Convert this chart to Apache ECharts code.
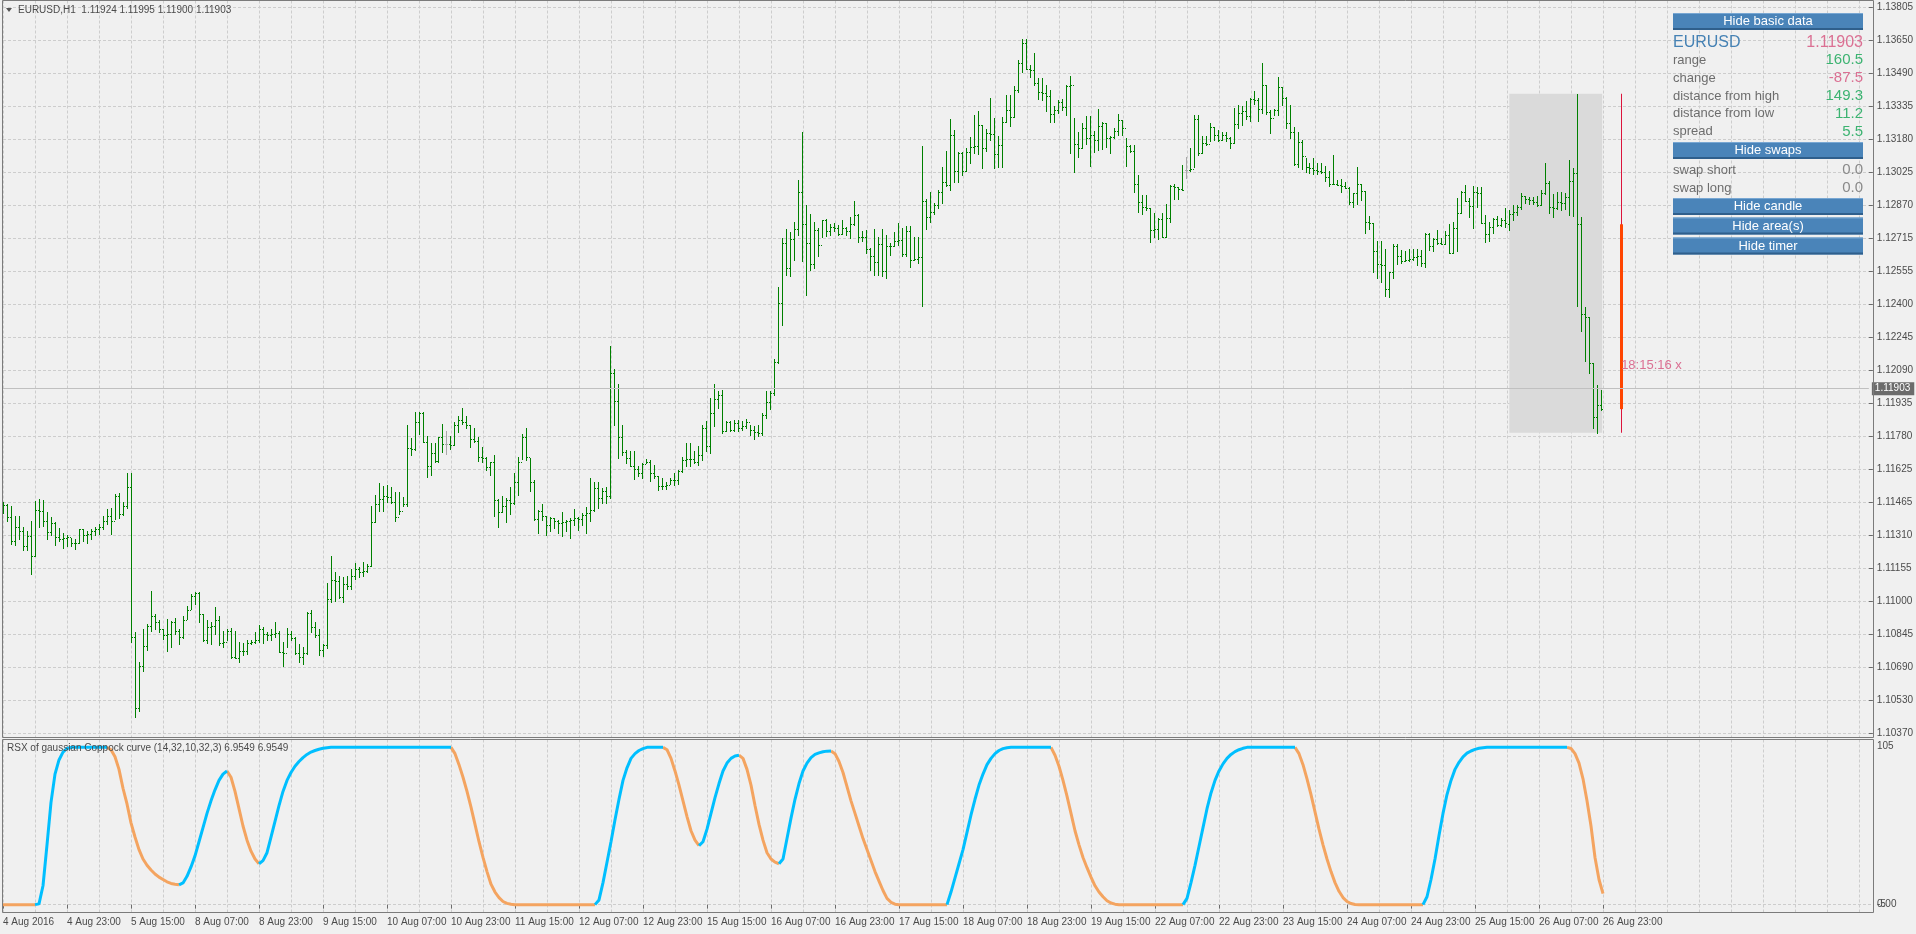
<!DOCTYPE html>
<html>
<head>
<meta charset="utf-8">
<title>EURUSD,H1</title>
<script src="https://cdn.jsdelivr.net/npm/echarts@6/dist/echarts.min.js"></script>
<style>
html,body{margin:0;padding:0;background:#f0f0f0;}
#chart{width:1916px;height:934px;}
</style>
</head>
<body>
<div id="chart"></div>
<script>
// ---------------- data ----------------
const symbolName = 'EURUSD';
const timeframe = 'H1';
const tradingDays = ['4 Aug','5 Aug','8 Aug','9 Aug','10 Aug','11 Aug','12 Aug','15 Aug','16 Aug','17 Aug','18 Aug','19 Aug','22 Aug','23 Aug','24 Aug','25 Aug','26 Aug'];
const firstHour = 7;
const firstTickLabel = '4 Aug 2016';
const futureSlots = 67;

const opens = [
1.11455,1.11451,1.11391,1.11278,1.11344,1.11328,1.11257,1.11304,1.11207,1.11427,
1.11423,1.11375,1.11320,1.11364,1.11297,1.11289,1.11293,1.11297,1.11270,1.11271,
1.11336,1.11309,1.11314,1.11328,1.11336,1.11344,1.11372,1.11396,1.11375,1.11491,
1.11407,1.11443,1.11533,1.10823,1.10487,1.10689,1.10781,1.10875,1.10926,1.10894,
1.10860,1.10836,1.10839,1.10894,1.10855,1.10823,1.10907,1.10954,1.11017,1.11033,
1.10932,1.10808,1.10871,1.10875,1.10905,1.10797,1.10800,1.10855,1.10729,1.10726,
1.10756,1.10760,1.10797,1.10800,1.10812,1.10863,1.10839,1.10834,1.10838,1.10844,
1.10752,1.10749,1.10839,1.10819,1.10749,1.10729,1.10749,1.10939,1.10871,1.10834,
1.10764,1.10787,1.11005,1.11092,1.11088,1.11013,1.11076,1.11068,1.11112,1.11147,
1.11131,1.11136,1.11159,1.11368,1.11453,1.11478,1.11494,1.11486,1.11462,1.11391,
1.11423,1.11454,1.11718,1.11715,1.11841,1.11885,1.11746,1.11636,1.11694,1.11656,
1.11770,1.11738,1.11738,1.11735,1.11828,1.11852,1.11841,1.11828,1.11762,1.11754,
1.11675,1.11670,1.11631,1.11651,1.11473,1.11418,1.11446,1.11475,1.11457,1.11557,
1.11655,1.11773,1.11675,1.11558,1.11383,1.11419,1.11398,1.11356,1.11387,1.11372,
1.11364,1.11368,1.11372,1.11380,1.11387,1.11384,1.11403,1.11410,1.11427,1.11529,
1.11482,1.11517,1.11490,1.12074,1.11943,1.11771,1.11698,1.11671,1.11635,1.11619,
1.11600,1.11645,1.11655,1.11600,1.11585,1.11537,1.11541,1.11545,1.11569,1.11566,
1.11608,1.11663,1.11667,1.11668,1.11652,1.11687,1.11813,1.11727,1.11887,1.11950,
1.11971,1.11798,1.11842,1.11805,1.11837,1.11813,1.11821,1.11840,1.11805,1.11793,
1.11790,1.11876,1.11939,1.11979,1.12124,1.12405,1.12689,1.12570,1.12708,1.12755,
1.12930,1.12780,1.12689,1.12589,1.12749,1.12678,1.12796,1.12747,1.12767,1.12760,
1.12733,1.12760,1.12744,1.12778,1.12823,1.12717,1.12720,1.12660,1.12626,1.12599,
1.12684,1.12558,1.12673,1.12676,1.12701,1.12705,1.12638,1.12744,1.12610,1.12613,
1.12622,1.12886,1.12812,1.12834,1.12870,1.12933,1.12976,1.12965,1.13201,1.13028,
1.13114,1.13032,1.13122,1.13146,1.13150,1.13249,1.13138,1.13209,1.13206,1.13111,
1.13154,1.13260,1.13320,1.13285,1.13414,1.13540,1.13635,1.13512,1.13509,1.13449,
1.13405,1.13401,1.13387,1.13300,1.13320,1.13359,1.13332,1.13433,1.13437,1.13157,
1.13141,1.13232,1.13185,1.13201,1.13177,1.13243,1.13256,1.13185,1.13190,1.13220,
1.13272,1.13232,1.13150,1.13125,1.12967,1.12882,1.12859,1.12854,1.12751,1.12755,
1.12803,1.12720,1.12810,1.12961,1.12956,1.12944,1.13035,1.13035,1.13040,1.13275,
1.13114,1.13165,1.13160,1.13237,1.13201,1.13177,1.13201,1.13188,1.13165,1.13253,
1.13307,1.13314,1.13291,1.13370,1.13365,1.13322,1.13437,1.13311,1.13280,1.13319,
1.13430,1.13374,1.13256,1.13217,1.13062,1.13169,1.13101,1.13048,1.13043,1.13035,
1.13030,1.13024,1.13004,1.12969,1.12967,1.12964,1.12960,1.12952,1.12882,1.12925,
1.12967,1.12936,1.12791,1.12783,1.12652,1.12589,1.12585,1.12471,1.12551,1.12677,
1.12630,1.12606,1.12610,1.12615,1.12622,1.12628,1.12594,1.12731,1.12677,1.12707,
1.12691,1.12685,1.12728,1.12641,1.12759,1.12830,1.12933,1.12889,1.12865,1.12930,
1.12925,1.12783,1.12731,1.12764,1.12802,1.12775,1.12796,1.12778,1.12827,1.12838,
1.12862,1.12912,1.12896,1.12893,1.12885,1.12870,1.12925,1.12972,1.12859,1.12855,
1.12885,1.12881,1.12909,1.12985,1.13023,1.12778,1.12354,1.12337,1.12120,1.11868,
1.11924];

const highs = [
1.11462,1.11454,1.11446,1.11399,1.11399,1.11344,1.11328,1.11375,1.11467,1.11478,
1.11473,1.11418,1.11391,1.11368,1.11339,1.11317,1.11305,1.11292,1.11286,1.11336,
1.11336,1.11328,1.11336,1.11344,1.11360,1.11399,1.11431,1.11434,1.11502,1.11506,
1.11462,1.11599,1.11599,1.10847,1.10705,1.10863,1.10886,1.11041,1.10934,1.10907,
1.10863,1.10910,1.10902,1.10913,1.10863,1.10926,1.10973,1.11028,1.11036,1.11036,
1.10934,1.10905,1.10894,1.10965,1.10926,1.10855,1.10863,1.10866,1.10855,1.10800,
1.10797,1.10808,1.10808,1.10847,1.10879,1.10871,1.10850,1.10863,1.10894,1.10855,
1.10800,1.10866,1.10855,1.10823,1.10792,1.10776,1.10942,1.10954,1.10894,1.10863,
1.10792,1.11081,1.11210,1.11131,1.11115,1.11107,1.11112,1.11147,1.11175,1.11158,
1.11181,1.11169,1.11446,1.11497,1.11554,1.11541,1.11544,1.11533,1.11510,1.11513,
1.11486,1.11828,1.11767,1.11891,1.11891,1.11891,1.11778,1.11743,1.11741,1.11773,
1.11833,1.11800,1.11778,1.11841,1.11872,1.11909,1.11872,1.11828,1.11812,1.11770,
1.11722,1.11675,1.11655,1.11686,1.11478,1.11494,1.11481,1.11533,1.11599,1.11675,
1.11786,1.11812,1.11671,1.11566,1.11427,1.11455,1.11398,1.11392,1.11387,1.11380,
1.11416,1.11380,1.11387,1.11430,1.11392,1.11411,1.11440,1.11577,1.11556,1.11556,
1.11529,1.11534,1.12203,1.12092,1.12021,1.11829,1.11708,1.11703,1.11703,1.11632,
1.11648,1.11667,1.11663,1.11640,1.11585,1.11577,1.11556,1.11577,1.11600,1.11613,
1.11676,1.11745,1.11742,1.11703,1.11727,1.11829,1.11848,1.11955,1.12023,1.11987,
1.11992,1.11845,1.11845,1.11850,1.11853,1.11845,1.11857,1.11829,1.11821,1.11829,
1.11884,1.11987,1.11987,1.12140,1.12479,1.12712,1.12755,1.12741,1.12788,1.12988,
1.13214,1.12870,1.12827,1.12791,1.12760,1.12799,1.12802,1.12778,1.12783,1.12775,
1.12799,1.12764,1.12812,1.12887,1.12826,1.12744,1.12752,1.12665,1.12755,1.12720,
1.12756,1.12728,1.12689,1.12741,1.12783,1.12760,1.12771,1.12771,1.12717,1.12720,
1.13149,1.12898,1.12930,1.12878,1.12941,1.13051,1.13127,1.13275,1.13225,1.13122,
1.13118,1.13138,1.13190,1.13296,1.13312,1.13249,1.13228,1.13375,1.13283,1.13197,
1.13285,1.13390,1.13390,1.13433,1.13556,1.13654,1.13654,1.13532,1.13588,1.13472,
1.13469,1.13438,1.13414,1.13338,1.13364,1.13370,1.13438,1.13480,1.13280,1.13217,
1.13256,1.13291,1.13291,1.13220,1.13322,1.13264,1.13256,1.13196,1.13232,1.13299,
1.13272,1.13185,1.13154,1.13154,1.13012,1.12917,1.12917,1.12854,1.12830,1.12807,
1.12830,1.12873,1.12964,1.12967,1.12956,1.13059,1.13098,1.13138,1.13295,1.13294,
1.13196,1.13196,1.13259,1.13237,1.13225,1.13217,1.13217,1.13190,1.13330,1.13343,
1.13338,1.13362,1.13374,1.13409,1.13374,1.13540,1.13437,1.13319,1.13322,1.13474,
1.13430,1.13382,1.13343,1.13240,1.13217,1.13177,1.13094,1.13067,1.13090,1.13070,
1.13067,1.13054,1.13032,1.13106,1.12988,1.12993,1.12980,1.12956,1.12928,1.13051,
1.12967,1.12936,1.12818,1.12783,1.12699,1.12699,1.12660,1.12554,1.12684,1.12684,
1.12657,1.12652,1.12661,1.12661,1.12660,1.12657,1.12739,1.12739,1.12715,1.12751,
1.12715,1.12747,1.12778,1.12791,1.12901,1.12936,1.12964,1.12901,1.12960,1.12956,
1.12956,1.12822,1.12791,1.12807,1.12818,1.12807,1.12854,1.12846,1.12870,1.12870,
1.12925,1.12912,1.12909,1.12909,1.12912,1.12941,1.13067,1.12983,1.12922,1.12933,
1.12933,1.12928,1.13083,1.13043,1.13396,1.12814,1.12385,1.12337,1.12120,1.12018,
1.11995];

const lows = [
1.11412,1.11375,1.11265,1.11262,1.11289,1.11234,1.11238,1.11123,1.11210,1.11344,
1.11349,1.11289,1.11305,1.11260,1.11281,1.11246,1.11257,1.11257,1.11241,1.11270,
1.11281,1.11270,1.11289,1.11305,1.11312,1.11336,1.11360,1.11312,1.11383,1.11387,
1.11402,1.11435,1.10800,1.10445,1.10472,1.10662,1.10765,1.10855,1.10863,1.10847,
1.10815,1.10760,1.10776,1.10839,1.10792,1.10819,1.10910,1.10957,1.10981,1.10894,
1.10804,1.10797,1.10792,1.10839,1.10787,1.10776,1.10808,1.10724,1.10724,1.10705,
1.10737,1.10745,1.10792,1.10797,1.10800,1.10797,1.10808,1.10808,1.10823,1.10752,
1.10689,1.10776,1.10808,1.10745,1.10708,1.10697,1.10745,1.10847,1.10823,1.10737,
1.10734,1.10771,1.10989,1.10997,1.11008,1.10992,1.11052,1.11052,1.11099,1.11107,
1.11115,1.11131,1.11159,1.11371,1.11423,1.11423,1.11462,1.11459,1.11375,1.11407,
1.11446,1.11446,1.11686,1.11711,1.11786,1.11746,1.11581,1.11593,1.11655,1.11655,
1.11699,1.11691,1.11715,1.11733,1.11797,1.11833,1.11812,1.11722,1.11749,1.11659,
1.11655,1.11615,1.11593,1.11399,1.11347,1.11415,1.11368,1.11407,1.11454,1.11498,
1.11667,1.11664,1.11514,1.11380,1.11316,1.11380,1.11308,1.11324,1.11340,1.11316,
1.11301,1.11324,1.11293,1.11356,1.11332,1.11356,1.11316,1.11375,1.11419,1.11435,
1.11458,1.11458,1.11482,1.11829,1.11671,1.11687,1.11648,1.11632,1.11572,1.11585,
1.11577,1.11648,1.11561,1.11577,1.11518,1.11525,1.11525,1.11550,1.11545,1.11550,
1.11604,1.11632,1.11632,1.11648,1.11640,1.11663,1.11703,1.11695,1.11821,1.11908,
1.11790,1.11798,1.11798,1.11798,1.11798,1.11805,1.11813,1.11782,1.11761,1.11774,
1.11782,1.11861,1.11903,1.11971,1.12121,1.12302,1.12539,1.12534,1.12610,1.12728,
1.12602,1.12444,1.12562,1.12570,1.12629,1.12717,1.12723,1.12728,1.12748,1.12728,
1.12731,1.12728,1.12712,1.12775,1.12696,1.12701,1.12641,1.12562,1.12539,1.12539,
1.12534,1.12523,1.12633,1.12673,1.12681,1.12626,1.12626,1.12578,1.12607,1.12594,
1.12389,1.12756,1.12791,1.12827,1.12857,1.12881,1.12960,1.12938,1.12980,1.12976,
1.13012,1.13028,1.13067,1.13114,1.13111,1.13042,1.13126,1.13178,1.13044,1.13048,
1.13051,1.13260,1.13241,1.13285,1.13406,1.13501,1.13512,1.13474,1.13438,1.13370,
1.13367,1.13312,1.13264,1.13264,1.13304,1.13320,1.13296,1.13114,1.13027,1.13098,
1.13138,1.13157,1.13054,1.13122,1.13130,1.13133,1.13146,1.13114,1.13185,1.13201,
1.13201,1.13056,1.13122,1.12933,1.12838,1.12825,1.12846,1.12696,1.12720,1.12707,
1.12717,1.12720,1.12791,1.12898,1.12898,1.12941,1.12996,1.13032,1.13048,1.13106,
1.13114,1.13154,1.13174,1.13177,1.13174,1.13177,1.13174,1.13138,1.13161,1.13232,
1.13248,1.13275,1.13269,1.13348,1.13269,1.13307,1.13299,1.13209,1.13295,1.13295,
1.13343,1.13232,1.13185,1.13059,1.13051,1.13040,1.13027,1.13023,1.13016,1.13016,
1.13019,1.12985,1.12960,1.12967,1.12964,1.12933,1.12952,1.12873,1.12859,1.12874,
1.12893,1.12736,1.12755,1.12551,1.12526,1.12507,1.12439,1.12436,1.12523,1.12590,
1.12594,1.12606,1.12602,1.12609,1.12586,1.12581,1.12578,1.12657,1.12652,1.12684,
1.12684,1.12685,1.12641,1.12641,1.12652,1.12833,1.12889,1.12811,1.12762,1.12862,
1.12783,1.12696,1.12699,1.12739,1.12770,1.12770,1.12767,1.12751,1.12799,1.12822,
1.12849,1.12878,1.12874,1.12874,1.12866,1.12870,1.12922,1.12833,1.12814,1.12849,
1.12846,1.12849,1.12822,1.12818,1.12393,1.12275,1.12132,1.12076,1.11816,1.11791,
1.11900];

const closes = [
1.11451,1.11391,1.11278,1.11344,1.11328,1.11257,1.11304,1.11207,1.11427,1.11423,
1.11375,1.11320,1.11364,1.11297,1.11289,1.11293,1.11297,1.11270,1.11271,1.11336,
1.11309,1.11314,1.11328,1.11336,1.11344,1.11372,1.11396,1.11375,1.11491,1.11407,
1.11443,1.11533,1.10823,1.10487,1.10689,1.10781,1.10875,1.10926,1.10894,1.10860,
1.10836,1.10839,1.10894,1.10855,1.10823,1.10907,1.10954,1.11017,1.11033,1.10932,
1.10808,1.10871,1.10875,1.10905,1.10797,1.10800,1.10855,1.10729,1.10726,1.10756,
1.10760,1.10797,1.10800,1.10812,1.10863,1.10839,1.10834,1.10838,1.10844,1.10752,
1.10749,1.10839,1.10819,1.10749,1.10729,1.10749,1.10939,1.10871,1.10834,1.10764,
1.10787,1.11005,1.11092,1.11088,1.11013,1.11076,1.11068,1.11112,1.11147,1.11131,
1.11136,1.11159,1.11368,1.11453,1.11478,1.11494,1.11486,1.11462,1.11391,1.11423,
1.11454,1.11718,1.11715,1.11841,1.11885,1.11746,1.11636,1.11694,1.11656,1.11770,
1.11738,1.11738,1.11735,1.11828,1.11852,1.11841,1.11828,1.11762,1.11754,1.11675,
1.11670,1.11631,1.11651,1.11473,1.11418,1.11446,1.11475,1.11457,1.11557,1.11655,
1.11773,1.11675,1.11558,1.11383,1.11419,1.11398,1.11356,1.11387,1.11372,1.11364,
1.11368,1.11372,1.11380,1.11387,1.11384,1.11403,1.11410,1.11427,1.11529,1.11482,
1.11517,1.11490,1.12074,1.11943,1.11771,1.11698,1.11671,1.11635,1.11619,1.11600,
1.11645,1.11655,1.11600,1.11585,1.11537,1.11541,1.11545,1.11569,1.11566,1.11608,
1.11663,1.11667,1.11668,1.11652,1.11687,1.11813,1.11727,1.11887,1.11950,1.11971,
1.11798,1.11842,1.11805,1.11837,1.11813,1.11821,1.11840,1.11805,1.11793,1.11790,
1.11876,1.11939,1.11979,1.12124,1.12405,1.12689,1.12570,1.12708,1.12755,1.12930,
1.12780,1.12689,1.12589,1.12749,1.12678,1.12796,1.12747,1.12767,1.12760,1.12733,
1.12760,1.12744,1.12778,1.12823,1.12717,1.12720,1.12660,1.12626,1.12599,1.12684,
1.12558,1.12673,1.12676,1.12701,1.12705,1.12638,1.12744,1.12610,1.12613,1.12622,
1.12886,1.12812,1.12834,1.12870,1.12933,1.12976,1.12965,1.13201,1.13028,1.13114,
1.13032,1.13122,1.13146,1.13150,1.13249,1.13138,1.13209,1.13206,1.13111,1.13154,
1.13260,1.13320,1.13285,1.13414,1.13540,1.13635,1.13512,1.13509,1.13449,1.13405,
1.13401,1.13387,1.13300,1.13320,1.13359,1.13332,1.13433,1.13437,1.13157,1.13141,
1.13232,1.13185,1.13201,1.13177,1.13243,1.13256,1.13185,1.13190,1.13220,1.13272,
1.13232,1.13150,1.13125,1.12967,1.12882,1.12859,1.12854,1.12751,1.12755,1.12803,
1.12720,1.12810,1.12961,1.12956,1.12944,1.12941,1.13035,1.13040,1.13275,1.13114,
1.13165,1.13160,1.13237,1.13201,1.13177,1.13201,1.13188,1.13165,1.13253,1.13307,
1.13314,1.13291,1.13370,1.13365,1.13322,1.13437,1.13311,1.13280,1.13319,1.13430,
1.13374,1.13256,1.13217,1.13062,1.13169,1.13101,1.13048,1.13043,1.13035,1.13030,
1.13024,1.13004,1.12969,1.12967,1.12964,1.12960,1.12952,1.12882,1.12925,1.12967,
1.12936,1.12791,1.12783,1.12652,1.12589,1.12585,1.12471,1.12551,1.12677,1.12630,
1.12606,1.12610,1.12615,1.12622,1.12628,1.12594,1.12731,1.12677,1.12707,1.12691,
1.12685,1.12728,1.12641,1.12759,1.12830,1.12933,1.12889,1.12865,1.12930,1.12925,
1.12783,1.12731,1.12764,1.12802,1.12775,1.12796,1.12783,1.12827,1.12838,1.12862,
1.12912,1.12896,1.12893,1.12885,1.12870,1.12925,1.12972,1.12859,1.12855,1.12885,
1.12881,1.12909,1.12985,1.13023,1.12778,1.12354,1.12337,1.12120,1.11868,1.11923,
1.11903];

// RSX of gaussian Coppock curve, one value per bar
const rsxValues = [
0,0,0,0,0,0,0,0,0,0.5,
12,38,65,83,92,97,99.3,100,100,100,
100,100,100,100,100,100,100,98.5,94,86,
74,64,52,43,35,29,25,22,19.5,17.5,
16,14.5,13.5,13,12.6,13.8,18,24,31,40,
49,58,66,73,79,83,85,81,72,61,
50,41,34,29,26,28,33,43,53,63,
72,79,84,88,91,93.5,95.5,97,98,98.8,
99.4,99.8,100,100,100,100,100,100,100,100,
100,100,100,100,100,100,100,100,100,100,
100,100,100,100,100,100,100,100,100,100,
100,100,100,96,89,81,72,62,51,40,
30,21,13,8,4.5,2,0.8,0.2,0,0,
0,0,0,0,0,0,0,0,0,0,
0,0,0,0,0,0,0,0,0,3,
14,27,40,54,67,79,87,93,96,98,
99.2,100,100,100,100,100,98.5,93,85,76,
66,56,47,41,37.5,40,48,58,68,77,
85,90,93,94.5,95,93,86,76,63,51,
41,33,29,27,26,29,42,55,67,77,
85,90,93.5,95.5,96.5,97.2,97.6,97.7,96,91,
84,75,66,58,50,42,35,28,21,15,
9,4,1.5,0.3,0,0,0,0,0,0,
0,0,0,0,0,0,0,8,17,26,
35,46,57,67,76,83,89,93,96,98,
99.2,99.8,100,100,100,100,100,100,100,100,
100,100,100,95,88,79,69,58,47,38,
30,23.5,17.5,12,8,5,2.5,1,0.3,0,
0,0,0,0,0,0,0,0,0,0,
0,0,0,0,0,0,4,14,25,37,
49,61,71,79,85,89.5,93,95.5,97.3,98.5,
99.4,100,100,100,100,100,100,100,100,100,
100,100,100,100,96,89,80,70,59,48,
38,29,21,14,8.5,4.5,2,0.7,0.1,0,
0,0,0,0,0,0,0,0,0,0,
0,0,0,0,0,0,5,16,29,44,
58,70,79,86,90.5,94,96.3,97.7,98.7,99.4,
99.8,100,100,100,100,100,100,100,100,100,
100,100,100,100,100,100,100,100,100,100,
100,100,99.3,96,90,80,66,50,30,16,
6.9549];
const rsxTitle = 'RSX of gaussian Coppock curve';
const rsxParams = '(14,32,10,32,3)';
const rsxMin = -5, rsxMax = 105, rsxLevel = 0;

const priceTicks = ['1.10370','1.10530','1.10690','1.10845','1.11000','1.11155','1.11310','1.11465','1.11625','1.11780','1.11935','1.12090','1.12245','1.12400','1.12555','1.12715','1.12870','1.13025','1.13180','1.13335','1.13490','1.13650','1.13805'];

// current day (area + daily candle + timer)
const dayStartIndex = 377;
const dayOpen = 1.12778;
const dayHigh = 1.13396;
const dayLow = 1.11791;
const dailyCandleIndex = 405;
const timerText = '18:15:16 x';
const timerPrice = 1.12108;
const spreadValue = '5.5';
const swapShort = '0.0';
const swapLong = '0.0';

// ---------------- build ----------------
const categories = [];
tradingDays.forEach((d, k) => {
  for (let h = (k === 0 ? firstHour : 0); h < 24; h++) {
    categories.push(d + ' ' + String(h).padStart(2, '0') + ':00');
  }
});
const nBars = categories.length;
for (let k = 1; k <= futureSlots; k++) categories.push('+' + k + 'h');

const ohlc = closes.map((c, i) => [i, opens[i], highs[i], lows[i], c]);
const last = nBars - 1;
const lastClose = closes[last];
const dayClose = lastClose;

// trend state of the indicator: rising -> blue, falling -> orange
const states = [];
let st = 'down';
rsxValues.forEach((v, i) => {
  if (i > 0) { if (v > rsxValues[i - 1]) st = 'up'; else if (v < rsxValues[i - 1]) st = 'down'; }
  states.push(st);
});
const rsxUp = rsxValues.map((v, i) => (states[i] === 'up' || states[i + 1] === 'up') ? v : null);
const rsxDown = rsxValues.map((v, i) => (states[i] === 'down' || states[i + 1] === 'down') ? v : null);
const lastRsx = rsxValues[rsxValues.length - 1];

const FONT = '"Liberation Sans", Arial, sans-serif';
const axisText = '#4b4b4b';
const gridColor = '#cdcdcd';
const frameColor = '#7b7b7b';
const barColor = '#008000';
const dojiColor = '#a9a9a9';

// plot geometry
const plotLeft = 3, plotWidth = 1868;
const mainFrameTop = 0.5, mainFrameH = 737;
const mainPlotTop = 7.3, mainPlotH = 725.7;
const indTop = 739.5, indH = 173;

function renderOHLC(params, api) {
  const i = api.value(0);
  const o = api.value(1), h = api.value(2), l = api.value(3), c = api.value(4);
  const pH = api.coord([i, h]);
  const pL = api.coord([i, l]);
  const yo = Math.round(api.coord([i, o])[1]);
  const yc = Math.round(api.coord([i, c])[1]);
  const x = Math.round(pH[0]);
  const yh = Math.round(pH[1]), yl = Math.round(pL[1]);
  const color = o === c ? dojiColor : barColor;
  return {
    type: 'group',
    children: [
      { type: 'rect', shape: { x: x, y: yh, width: 1, height: Math.max(1, yl - yh + 1) }, style: { fill: color } },
      { type: 'rect', shape: { x: x - 1, y: yo, width: 1, height: 1 }, style: { fill: color } },
      { type: 'rect', shape: { x: x + 1, y: yc, width: 1, height: 1 }, style: { fill: color } }
    ]
  };
}
function renderDayArea(params, api) {
  const p1 = api.coord([api.value(0), api.value(3)]);
  const p2 = api.coord([api.value(1), api.value(2)]);
  return { type: 'rect', shape: { x: p1[0], y: p1[1], width: p2[0] - p1[0] + 1, height: p2[1] - p1[1] }, style: { fill: '#dadada' } };
}
function renderDayCandle(params, api) {
  const i = api.value(0);
  const pO = api.coord([i, api.value(1)]);
  const pH = api.coord([i, api.value(2)]);
  const pL = api.coord([i, api.value(3)]);
  const pC = api.coord([i, api.value(4)]);
  const x = Math.round(pH[0]);
  const top = Math.min(pO[1], pC[1]), bot = Math.max(pO[1], pC[1]);
  return {
    type: 'group',
    children: [
      { type: 'rect', shape: { x: x, y: pH[1], width: 1, height: pL[1] - pH[1] }, style: { fill: '#dc143c' } },
      { type: 'rect', shape: { x: x - 1, y: top, width: 3, height: bot - top }, style: { fill: '#ff4500' } }
    ]
  };
}

const splitDash = { color: gridColor, type: [3, 2], width: 1 };
const xBase = { type: 'category', data: categories, boundaryGap: false };

// ---- info panel graphics ----
const green = '#3cb371', pink = '#db7093', labelGrey = '#6d6d6d', valueGrey = '#8a8a8a';
const panelX = 1673, panelRight = 1863, btnW = 190;
const buttons = [
  { text: 'Hide basic data', y: 13 },
  { text: 'Hide swaps', y: 142 },
  { text: 'Hide candle', y: 198 },
  { text: 'Hide area(s)', y: 217.5 },
  { text: 'Hide timer', y: 237.5 }
];
const rows = [
  { label: symbolName, value: lastClose.toFixed(5), y: 42.7, size: 16, lc: '#4682b4', vc: pink },
  { label: 'range', value: ((dayHigh - dayLow) * 10000).toFixed(1), y: 60, vc: green },
  { label: 'change', value: ((dayClose - dayOpen) * 10000).toFixed(1), y: 78, vc: pink },
  { label: 'distance from high', value: ((dayHigh - dayClose) * 10000).toFixed(1), y: 96, vc: green },
  { label: 'distance from low', value: ((dayClose - dayLow) * 10000).toFixed(1), y: 113.7, vc: green },
  { label: 'spread', value: spreadValue, y: 131.7, vc: green },
  { label: 'swap short', value: swapShort, y: 170, vc: valueGrey },
  { label: 'swap long', value: swapLong, y: 188, vc: valueGrey }
];
const graphics = [];
// frames
graphics.push({ type: 'rect', z: 60, silent: true, shape: { x: 2.5, y: mainFrameTop, width: 1871, height: mainFrameH }, style: { fill: 'rgba(0,0,0,0)', stroke: frameColor, lineWidth: 1 } });
graphics.push({ type: 'rect', z: 60, silent: true, shape: { x: 2.5, y: indTop, width: 1871, height: indH }, style: { fill: 'rgba(0,0,0,0)', stroke: frameColor, lineWidth: 1 } });
// titles
graphics.push({ type: 'polygon', z: 61, shape: { points: [[6, 8], [12, 8], [9, 12]] }, style: { fill: '#555' } });
graphics.push({ type: 'text', z: 61, x: 18, y: 10, style: {
  text: symbolName + ',' + timeframe + '  ' + opens[last].toFixed(5) + ' ' + highs[last].toFixed(5) + ' ' + lows[last].toFixed(5) + ' ' + lastClose.toFixed(5),
  fill: '#4b4b4b', fontSize: 10, fontFamily: FONT, verticalAlign: 'middle', align: 'left' } });
graphics.push({ type: 'text', z: 61, x: 7, y: 748, style: {
  text: rsxTitle + ' ' + rsxParams + ' ' + lastRsx.toFixed(4) + ' ' + lastRsx.toFixed(4),
  fill: '#4b4b4b', fontSize: 10, fontFamily: FONT, verticalAlign: 'middle', align: 'left' } });
// buttons
buttons.forEach(b => {
  graphics.push({ type: 'rect', z: 62, shape: { x: panelX, y: b.y, width: btnW, height: 17 }, style: { fill: '#4a84b9' } });
  graphics.push({ type: 'rect', z: 62, shape: { x: panelX, y: b.y, width: btnW, height: 1 }, style: { fill: '#78a7d3' } });
  graphics.push({ type: 'rect', z: 62, shape: { x: panelX, y: b.y + 15, width: btnW, height: 2 }, style: { fill: '#2f5f8c' } });
  graphics.push({ type: 'text', z: 63, x: panelX + btnW / 2, y: b.y + 8.5, style: { text: b.text, fill: '#ffffff', fontSize: 13, fontFamily: FONT, align: 'center', verticalAlign: 'middle' } });
});
rows.forEach(r => {
  graphics.push({ type: 'text', z: 63, x: panelX, y: r.y, style: { text: r.label, fill: r.lc || labelGrey, fontSize: r.size || 13, fontFamily: FONT, align: 'left', verticalAlign: 'middle' } });
  graphics.push({ type: 'text', z: 63, x: panelRight, y: r.y, style: { text: r.value, fill: r.vc, fontSize: r.size || 15, fontFamily: FONT, align: 'right', verticalAlign: 'middle' } });
});

const labelBase = { color: axisText, fontSize: 10, fontFamily: FONT };

const option = {
  backgroundColor: '#f0f0f0',
  animation: false,
  grid: [
    { left: plotLeft, width: plotWidth, top: mainFrameTop, height: mainFrameH },
    { left: plotLeft, width: plotWidth, top: mainPlotTop, height: mainPlotH },
    { left: plotLeft, width: plotWidth, top: indTop, height: indH }
  ],
  xAxis: [
    Object.assign({}, xBase, { gridIndex: 0, axisLine: { show: false }, axisTick: { show: false }, axisLabel: { show: false },
      splitLine: { show: true, interval: (i) => i % 8 === 0, lineStyle: splitDash } }),
    Object.assign({}, xBase, { gridIndex: 1, show: false }),
    Object.assign({}, xBase, { gridIndex: 2, axisLine: { show: false },
      axisTick: { show: true, interval: (i) => i % 16 === 0 && i < nBars, length: 4, lineStyle: { color: '#6a6a6a' } },
      axisLabel: Object.assign({ show: true, interval: (i) => i % 16 === 0 && i < nBars, formatter: (v, i) => (i === 0 ? firstTickLabel : v),
        align: 'left', margin: 5 }, labelBase),
      splitLine: { show: true, interval: (i) => i % 8 === 0, lineStyle: splitDash } })
  ],
  yAxis: [
    { type: 'value', gridIndex: 0, min: 0, max: 1, show: false },
    { type: 'value', gridIndex: 1, min: Number(priceTicks[0]), max: Number(priceTicks[priceTicks.length - 1]), show: false, position: 'left' },
    { type: 'value', gridIndex: 1, position: 'right', min: 0, max: priceTicks.length - 1, interval: 1,
      axisLine: { show: false },
      axisTick: { show: true, length: 4, lineStyle: { color: '#6a6a6a' } },
      axisLabel: Object.assign({ margin: 8, showMinLabel: true, showMaxLabel: true,
        formatter: (v) => priceTicks[Math.round(v)] || '' }, labelBase),
      splitLine: { show: true, lineStyle: splitDash } },
    // indicator scale: max label and level label
    { type: 'value', gridIndex: 2, position: 'right', min: rsxMin, max: rsxMax, interval: 5,
      axisLine: { show: false }, axisTick: { show: false }, splitLine: { show: false },
      axisLabel: Object.assign({ margin: 6, showMinLabel: false, showMaxLabel: true,
        formatter: (v) => (v === rsxMax ? '{t|' + rsxMax + '}' : v === rsxLevel ? rsxLevel.toFixed(2) : ''),
        rich: { t: Object.assign({ padding: [13, 0, 0, 0] }, labelBase) } }, labelBase) },
    // indicator scale: min label (drawn over the level label, as in the terminal)
    { type: 'value', gridIndex: 2, position: 'right', min: rsxMin, max: rsxMax, interval: rsxMax - rsxMin,
      axisLine: { show: false }, axisTick: { show: false }, splitLine: { show: false },
      axisLabel: Object.assign({ margin: 6, showMinLabel: true, showMaxLabel: false,
        formatter: (v) => (v === rsxMin ? '{b|' + rsxMin + '}' : ''),
        rich: { b: Object.assign({ padding: [0, 0, 16, 0] }, labelBase) } }, labelBase) }
  ],
  graphic: { elements: graphics },
  series: [
    { type: 'custom', name: 'day area', xAxisIndex: 1, yAxisIndex: 1, z: 2, silent: true,
      renderItem: renderDayArea, encode: { x: [0, 1], y: [2, 3] },
      data: [[dayStartIndex, last, dayLow, dayHigh]] },
    { type: 'custom', name: symbolName, xAxisIndex: 1, yAxisIndex: 1, z: 3, silent: true,
      renderItem: renderOHLC, encode: { x: 0, y: [1, 2, 3, 4] }, data: ohlc,
      markLine: { silent: true, symbol: ['none', 'none'], animation: false,
        lineStyle: { color: '#c0c0c0', type: 'solid', width: 1 },
        label: { show: true, position: 'end', distance: 3, formatter: () => lastClose.toFixed(5),
          color: '#ffffff', backgroundColor: '#6b6b6b', padding: [2, 4, 1, 3], fontSize: 10, fontFamily: FONT },
        data: [{ yAxis: lastClose }] } },
    { type: 'custom', name: 'daily candle', xAxisIndex: 1, yAxisIndex: 1, z: 4, silent: true,
      renderItem: renderDayCandle, encode: { x: 0, y: [1, 2, 3, 4] },
      data: [[dailyCandleIndex, dayOpen, dayHigh, dayLow, dayClose]],
      markPoint: { silent: true, symbol: 'circle', symbolSize: 0, animation: false,
        label: { show: true, position: 'right', distance: 0, formatter: timerText, color: pink, fontSize: 13, fontFamily: FONT },
        data: [{ coord: [dailyCandleIndex, timerPrice] }] } },
    { type: 'line', name: 'rsx down', xAxisIndex: 2, yAxisIndex: 3, data: rsxDown, showSymbol: false, silent: true,
      connectNulls: false, lineStyle: { color: '#f4a460', width: 3 }, itemStyle: { color: '#f4a460' }, z: 5,
      markLine: { silent: true, symbol: ['none', 'none'], animation: false, label: { show: false },
        lineStyle: { color: gridColor, type: [3, 2], width: 1 }, data: [{ yAxis: rsxLevel }] } },
    { type: 'line', name: 'rsx up', xAxisIndex: 2, yAxisIndex: 3, data: rsxUp, showSymbol: false, silent: true,
      connectNulls: false, lineStyle: { color: '#00bfff', width: 3 }, itemStyle: { color: '#00bfff' }, z: 6 }
  ]
};

const chart = echarts.init(document.getElementById('chart'), null, { renderer: 'canvas' });
chart.setOption(option);
</script>
</body>
</html>
